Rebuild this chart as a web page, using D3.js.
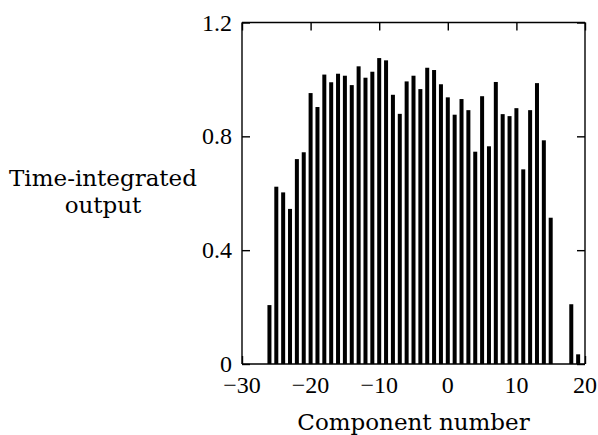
<!DOCTYPE html>
<html>
<head>
<meta charset="utf-8">
<script src="https://cdn.jsdelivr.net/npm/d3@7"></script>
<style>
  html, body { margin: 0; padding: 0; background: #fff; }
  svg { display: block; }
  text { font-family: "DejaVu Serif", serif; fill: #000; }
  text.tick { font-family: "Liberation Serif", "Times New Roman", serif; }
</style>
</head>
<body>
<svg id="chart" width="598" height="435"></svg>
<script>
// Data
const components = [-26,-25,-24,-23,-22,-21,-20,-19,-18,-17,-16,-15,-14,-13,-12,-11,-10,-9,-8,-7,-6,-5,-4,-3,-2,-1,0,1,2,3,4,5,6,7,8,9,10,11,12,13,14,15,18,19];
const outputs = [0.207,0.623,0.603,0.545,0.720,0.744,0.952,0.903,1.017,0.990,1.020,1.013,0.980,1.046,1.006,1.027,1.075,1.067,0.946,0.879,0.993,1.013,0.966,1.041,1.033,0.983,0.937,0.876,0.931,0.892,0.746,0.941,0.765,0.991,0.878,0.871,0.899,0.684,0.892,0.987,0.786,0.514,0.210,0.034];
const xTicks = [-30,-20,-10,0,10,20];
const yTicks = [0,0.4,0.8,1.2];
const yTickLabels = ["0","0.4","0.8","1.2"];
const xLabel = "Component number";
const yLabelLines = ["Time-integrated","output"];

const pL = 242, pR = 585, pT = 22.5, pB = 364;
const svg = d3.select("#chart");
const x = d3.scaleLinear().domain([-30, 20]).range([pL, pR]);
const y = d3.scaleLinear().domain([0, 1.2]).range([pB, pT]);
const barW = 4;
const tickLen = 8;

// bars
svg.append("g").selectAll("rect")
  .data(components.map((c, i) => ({c, v: outputs[i]})))
  .join("rect")
  .attr("x", d => x(d.c) - barW / 2)
  .attr("y", d => y(d.v))
  .attr("width", barW)
  .attr("height", d => y(0) - y(d.v))
  .attr("fill", "#000");

// frame axes with inward ticks
const fmtY = (d) => yTickLabels[yTicks.indexOf(d)];
const axL = d3.axisRight(y).tickValues(yTicks).tickSize(tickLen).tickFormat("");
const axR = d3.axisLeft(y).tickValues(yTicks).tickSize(tickLen).tickFormat("");
const axT = d3.axisBottom(x).tickValues(xTicks).tickSize(tickLen).tickFormat("");
const axB = d3.axisTop(x).tickValues(xTicks).tickSize(tickLen).tickFormat("");

function style(g) {
  g.selectAll("path.domain").attr("stroke", "#000").attr("stroke-width", 1.4);
  g.selectAll(".tick line").attr("stroke", "#000").attr("stroke-width", 1.4);
  g.selectAll(".tick text").remove();
}
svg.append("g").attr("transform", `translate(${pL},0)`).call(axL).call(g => g.select(".domain").attr("d", `M0,${pT}V${pB}`)).call(style);
svg.append("g").attr("transform", `translate(${pR},0)`).call(axR).call(g => g.select(".domain").attr("d", `M0,${pT}V${pB}`)).call(style);
svg.append("g").attr("transform", `translate(0,${pT})`).call(axT).call(g => g.select(".domain").attr("d", `M${pL},0H${pR}`)).call(style);
svg.append("g").attr("transform", `translate(0,${pB})`).call(axB).call(g => g.select(".domain").attr("d", `M${pL},0H${pR}`)).call(style);

// tick labels
svg.append("g").selectAll("text")
  .data(yTicks)
  .join("text")
  .attr("class", "tick")
  .attr("x", pL - 10)
  .attr("y", d => y(d) + 8)
  .attr("text-anchor", "end")
  .attr("font-size", 24)
  .text(fmtY);

svg.append("g").selectAll("text")
  .data(xTicks)
  .join("text")
  .attr("class", "tick")
  .attr("x", d => x(d))
  .attr("y", 393)
  .attr("text-anchor", "middle")
  .attr("font-size", 24)
  .text(d => d < 0 ? "\u2212" + Math.abs(d) : String(d));

// axis labels
svg.append("text")
  .attr("x", (pL + pR) / 2)
  .attr("y", 430)
  .attr("text-anchor", "middle")
  .attr("font-size", 23)
  .text(xLabel);

svg.append("g").selectAll("text")
  .data(yLabelLines)
  .join("text")
  .attr("x", 103)
  .attr("y", (d, i) => 186 + i * 27)
  .attr("text-anchor", "middle")
  .attr("font-size", 23)
  .text(d => d);
</script>
</body>
</html>
